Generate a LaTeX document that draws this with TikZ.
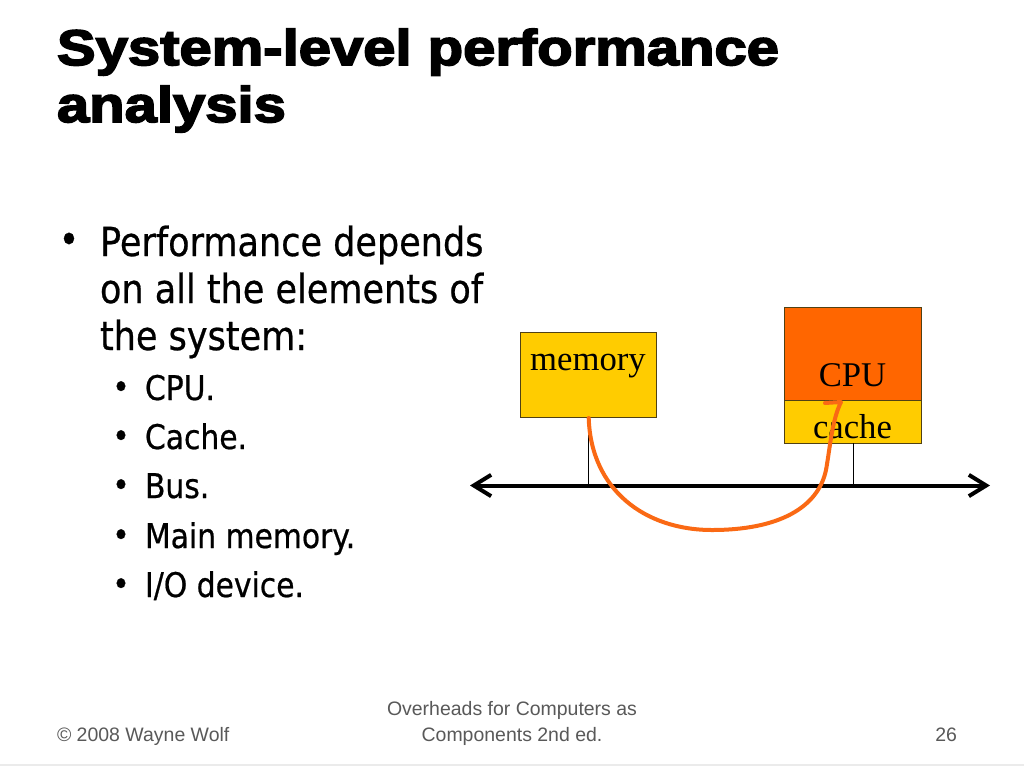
\documentclass[tikz,border=0pt]{standalone}
\usepackage{fontspec}
\setmainfont{Liberation Sans}
\newfontfamily\titlefont{Liberation Sans Bold}[FakeBold=3.5,FakeStretch=1.16]
\newfontfamily\bodyfont{DejaVu Sans}[FakeStretch=0.876,FakeBold=0.6]
\newfontfamily\seriffont{Liberation Serif}
\newfontfamily\footfont{Liberation Sans}
\usetikzlibrary{arrows.meta}
\definecolor{gold}{HTML}{FFCC00}
\definecolor{cpuorange}{HTML}{FF6600}
\definecolor{curveorange}{RGB}{250,105,20}
\definecolor{footgrey}{HTML}{595959}
\definecolor{boxedge}{RGB}{80,65,20}
\begin{document}
\begin{tikzpicture}[x=0.75pt,y=-0.75pt,
  txt/.style={inner sep=0pt,outer sep=0pt,anchor=base west},
  titletxt/.style={txt,font=\titlefont\fontsize{37.5pt}{45pt}\selectfont},
  bodytxt/.style={txt,font=\bodyfont\fontsize{30pt}{36pt}\selectfont},
  subtxt/.style={txt,font=\bodyfont\fontsize{25.5pt}{30pt}\selectfont},
  bulA/.style={inner sep=0pt,outer sep=0pt,anchor=center,font=\bodyfont\fontsize{30pt}{36pt}\selectfont},
  bulB/.style={inner sep=0pt,outer sep=0pt,anchor=center,font=\bodyfont\fontsize{25.5pt}{30pt}\selectfont},
  foot/.style={inner sep=0pt,outer sep=0pt,font=\footfont\fontsize{14.6pt}{19pt}\selectfont,text=footgrey},
  blk/.style={draw=boxedge,line width=0.75pt,inner sep=0pt,outer sep=0pt},
  lbl/.style={inner sep=0pt,outer sep=0pt,anchor=base,font=\seriffont\fontsize{26pt}{30pt}\selectfont},
  bus/.style={line width=3pt,{Straight Barb[length=13pt,width=16pt]}-{Straight Barb[length=13pt,width=16pt]}},
  tap/.style={line width=0.75pt,black},
  path/.style={draw=curveorange,line width=3pt,line cap=round,line join=round}]
\useasboundingbox[fill=white] (0,0) rectangle (1024,768);

% title
\node[titletxt] (t1) at (57,65) {System-level performance};
\node[titletxt] (t2) at (57,122) {analysis};

% bullets
\node[bulA] (b0) at (69,243) {•};
\node[bodytxt] (l1) at (100,256) {Performance depends};
\node[bodytxt] (l2) at (100,303) {on all the elements of};
\node[bodytxt] (l3) at (100,350) {the system:};

\node[bulB] (s1b) at (121,390) {•};
\node[subtxt] (s1) at (145,400) {CPU.};
\node[bulB] (s2b) at (121,439) {•};
\node[subtxt] (s2) at (145,449) {Cache.};
\node[bulB] (s3b) at (121,488) {•};
\node[subtxt] (s3) at (145,498) {Bus.};
\node[bulB] (s4b) at (121,538) {•};
\node[subtxt] (s4) at (145,548) {Main memory.};
\node[bulB] (s5b) at (121,587) {•};
\node[subtxt] (s5) at (145,597) {I/O device.};

% diagram
\coordinate (busL) at (470,485.5);
\coordinate (busR) at (990,485.5);
\node[blk,fill=gold,minimum width=102pt,minimum height=64pt] (mem) at (588.7,375.3) {};
\node[lbl] (memt) at (588,370) {memory};
\node[blk,fill=cpuorange,minimum width=102.5pt,minimum height=70pt] (cpu) at (853.3,354) {};
\node[blk,fill=gold,minimum width=102.5pt,minimum height=32pt] (cache) at (853.3,422) {};
\node[lbl] (cput) at (852.5,386) {CPU};
\node[lbl] (cachet) at (852.5,438.3) {cache};

\draw[tap] (mem.south) -- (mem.south |- busL);
\draw[tap] (cache.south) -- (cache.south |- busL);
\draw[bus] (busL) -- (busR);

\draw[path] (mem.south) .. controls (591,490) and (645,530) .. (712,530)
  .. controls (778,530) and (818,508) .. (826,470)
  .. controls (830,448) and (832,420) .. (841,402) -- (825,403);

% footer
\node[foot,anchor=base west] (f1) at (57,741) {© 2008 Wayne Wolf};
\node[foot,anchor=base] (f2) at (512,715) {Overheads for Computers as};
\node[foot,anchor=base] (f3) at (512,741) {Components 2nd ed.};
\node[foot,anchor=base east] (f4) at (957,741) {26};
\coordinate (gl) at (0,765);
\coordinate (gr) at (1024,765);
\draw[line width=1.5pt,black!8] (gl) -- (gr);
\end{tikzpicture}
\end{document}
